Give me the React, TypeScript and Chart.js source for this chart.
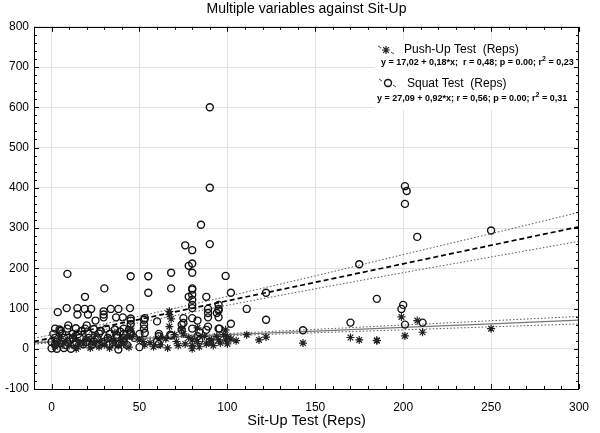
import React, { useEffect, useRef } from 'react';
import { Chart, registerables } from 'chart.js';

Chart.register(...registerables);

const FONT = '"Liberation Sans", Arial, Helvetica, sans-serif';

const chartTitle = 'Multiple variables against Sit-Up';
const xTitle = 'Sit-Up Test (Reps)';
const xTicks = [0, 50, 100, 150, 200, 250, 300];
const yTicks = [-100, 0, 100, 200, 300, 400, 500, 600, 700, 800];

const pushLabel = 'Push-Up Test  (Reps)';
const pushEq = ['y = 17,02 + 0,18*x;  r = 0,48; p = 0.00; r', '2', ' = 0,23'];
const squatLabel = 'Squat Test  (Reps)';
const squatEq = ['y = 27,09 + 0,92*x; r = 0,56; p = 0.00; r', '2', ' = 0,31'];

// Squat Test (Reps) vs Sit-Up Test (Reps) — circles
const squatPoints: [number, number][] = [
  [90, 600], [90, 400], [85, 308], [90, 260], [76, 257], [80, 245], [80, 212], [78, 206],
  [68, 189], [80, 189], [9, 186], [45, 180], [55, 180], [99, 181], [30, 150], [68, 150], [80, 150],
  [201, 404], [202, 392], [201, 360], [208, 278], [250, 294], [175, 210], [185, 124], [200, 109],
  [199, 99], [201, 60], [211, 65],
  [19, 129], [55, 139], [78, 129], [80, 122], [80, 109], [80, 101], [88, 129], [102, 139], [122, 139],
  [111, 99], [95, 109], [95, 99], [95, 95], [89, 99], [89, 78], [95, 78], [83, 70], [122, 72],
  [102, 62], [88, 47], [95, 50], [143, 46], [170, 65], [83, 31], [80, 147], [80, 134], [89, 89], [94, 89],
  [3.5, 91], [8.6, 101], [14.7, 101], [18.8, 99], [22.5, 99], [14.7, 85], [20.7, 85], [29.6, 93],
  [29.6, 85], [29.6, 78], [33.7, 99], [38, 99], [44.6, 101], [25, 70], [36.7, 78], [40.5, 78],
  [45, 75], [45, 70], [9.5, 58], [20, 58], [13.8, 51],
  [2, 50], [4.5, 48], [9, 50], [19, 50], [24, 49], [31, 50], [36, 48], [41, 50], [44, 47],
  [1, 37], [6, 38], [12, 37], [15, 36], [21, 37], [27, 38], [33, 37], [37, 35], [41, 37], [45, 36],
  [2, 27], [7, 27], [12, 26], [16, 28], [21, 27], [26, 26], [32, 27], [37, 28], [41, 26], [47, 27],
  [0, 17], [3, 18], [9, 17], [14, 16], [20, 17], [24, 18], [29, 17], [35, 16], [41, 17],
  [2, 10], [8, 9], [13, 10], [18, 11], [23, 10], [27, 9], [33, 10], [38, 11], [43, 9],
  [0, 1], [3, 0], [7, 2], [11, 0], [38, -2], [5, 44], [17, 44], [28, 44], [39, 43],
  [53, 76], [60, 68], [75, 76], [80, 76], [74, 60], [52.6, 60], [52.6, 50], [45, 61], [45, 41],
  [50, 37], [53, 39], [61, 37], [61, 31], [68, 33], [74, 47], [80, 50], [84, 41], [60, 18],
  [61, 12], [50, 4], [95.5, 50], [52.6, 72], [75, 64], [67.5, 35], [90, 18], [84, 21], [89, 55]
];

// Push-Up Test (Reps) vs Sit-Up Test (Reps) — asterisks
const pushPoints: [number, number][] = [
  [199, 79], [201, 32], [211, 41], [185, 20], [250, 50], [208, 70], [90, 18], [95, 22], [99, 22],
  [102, 24], [111, 35], [122, 29], [143, 14], [170, 28], [175, 22], [185, 21], [99, 47], [83, 52],
  [74, 50], [75, 37], [80, 22], [80, 8], [80, 0], [83, 18], [87, 31], [91, 22], [94, 31], [98, 35],
  [100, 12], [52, 18], [53, 10], [50, 22], [46, 31], [45, 51], [62, 28], [70, 35], [71, 18],
  [67, 85], [67, 55], [68, 74], [67, 93],
  [2, 5], [3, 15], [5, 25], [6, 10], [8, 20], [10, 8], [12, 30], [14, 0], [15, 5], [15, 18],
  [18, 12], [20, 25], [22, 2], [24, 15], [25, 35], [27, 5], [28, 20], [30, 10], [32, 28], [33, 2],
  [35, 18], [36, 40], [38, 8], [40, 22], [41, 12], [43, 30], [44, 4], [56, 15], [58, 5], [62, 10],
  [65, 25], [66, 2], [72, 8], [76, 12], [78, 28], [84, 5], [88, 12], [92, 8], [96, 14], [100, 30],
  [105, 20], [118, 22]
];

// Regression lines and 95% confidence bands
const fitX = [-10, 25, 50, 100, 150, 200, 250, 300];
const squatFit = [17.9, 50.1, 73.1, 119.1, 165.1, 211.1, 257.1, 303.1];
const squatUpper = [26, 57, 81, 130, 181, 234, 286, 339];
const squatLower = [10, 43, 65, 108, 149, 189, 228, 267];
const pushFit = [15.2, 21.5, 26, 35, 44, 53, 62, 71];
const pushUpper = [18, 23.7, 28.1, 37.8, 48.2, 58.9, 69.6, 80.3];
const pushLower = [12.4, 19.3, 23.9, 32.2, 39.8, 47.1, 54.4, 61.7];

const toXY = (pts: [number, number][]) => pts.map(([x, y]) => ({ x, y }));
const curve = (ys: number[]) => fitX.map((x, i) => ({ x, y: ys[i] }));

function drawEq(ctx: CanvasRenderingContext2D, parts: string[], x: number, y: number) {
  ctx.font = `bold 9px ${FONT}`;
  ctx.textBaseline = 'middle';
  ctx.fillText(parts[0], x, y);
  let cx = x + ctx.measureText(parts[0]).width;
  ctx.font = `bold 7px ${FONT}`;
  ctx.fillText(parts[1], cx, y - 4);
  cx += ctx.measureText(parts[1]).width;
  ctx.font = `bold 9px ${FONT}`;
  ctx.fillText(parts[2], cx, y);
}

const framePlugin = {
  id: 'frameAndLegend',
  afterDatasetsDraw(chart: any) {
    const { ctx, chartArea: a, scales } = chart;
    const xs = scales.x;
    const ys = scales.y;
    ctx.save();
    // frame
    ctx.strokeStyle = '#000';
    ctx.lineWidth = 1;
    ctx.strokeRect(Math.round(a.left) + 0.5, Math.round(a.top) + 0.5, Math.round(a.right - a.left) - 1, Math.round(a.bottom - a.top));
    // tick marks on all four sides (inward)
    ctx.beginPath();
    for (let v = -10; v <= 300; v += 10) {
      const p = Math.round(xs.getPixelForValue(v)) + 0.5;
      const len = v % 50 === 0 ? 5 : 3;
      ctx.moveTo(p, a.bottom);
      ctx.lineTo(p, a.bottom - len);
      ctx.moveTo(p, a.top);
      ctx.lineTo(p, a.top + len);
    }
    for (let v = -100; v <= 800; v += 20) {
      const p = Math.round(ys.getPixelForValue(v)) + 0.5;
      const len = v % 100 === 0 ? 5 : 3;
      ctx.moveTo(a.left, p);
      ctx.lineTo(a.left + len, p);
      ctx.moveTo(a.right, p);
      ctx.lineTo(a.right - len, p);
    }
    ctx.stroke();

    // legend box
    ctx.fillStyle = '#fff';
    ctx.fillRect(374, 40, 200, 70);
    ctx.fillStyle = '#000';
    // push-up symbol
    ctx.strokeStyle = '#444';
    ctx.lineWidth = 1;
    ctx.beginPath();
    ctx.moveTo(378, 46); ctx.lineTo(381, 48);
    ctx.moveTo(391, 52); ctx.lineTo(394, 54);
    ctx.stroke();
    ctx.strokeStyle = '#222';
    ctx.lineWidth = 1.2;
    ctx.beginPath();
    const sx = 386, sy = 50, r = 4;
    ctx.moveTo(sx - r, sy); ctx.lineTo(sx + r, sy);
    ctx.moveTo(sx, sy - r); ctx.lineTo(sx, sy + r);
    const d = r * 0.707;
    ctx.moveTo(sx - d, sy - d); ctx.lineTo(sx + d, sy + d);
    ctx.moveTo(sx - d, sy + d); ctx.lineTo(sx + d, sy - d);
    ctx.stroke();
    // squat symbol
    ctx.strokeStyle = '#444';
    ctx.lineWidth = 1;
    ctx.beginPath();
    ctx.moveTo(379, 79); ctx.lineTo(382, 81);
    ctx.moveTo(393, 85); ctx.lineTo(396, 87);
    ctx.stroke();
    ctx.strokeStyle = '#111';
    ctx.lineWidth = 1.4;
    ctx.beginPath();
    ctx.arc(388, 83, 3.5, 0, Math.PI * 2);
    ctx.stroke();

    ctx.textAlign = 'left';
    ctx.textBaseline = 'middle';
    ctx.font = `12px ${FONT}`;
    ctx.fillText(pushLabel, 404, 50);
    drawEq(ctx, pushEq, 381, 63);
    ctx.font = `12px ${FONT}`;
    ctx.fillText(squatLabel, 407, 84);
    drawEq(ctx, squatEq, 377, 99);
    ctx.restore();
  }
};

export default function App() {
  const ref = useRef<HTMLCanvasElement | null>(null);
  useEffect(() => {
    if (!ref.current) return;
    const bandStyle = { borderColor: '#555', borderWidth: 1, borderDash: [1.5, 2], pointRadius: 0, showLine: true, fill: false };
    const chart = new Chart(ref.current, {
      type: 'scatter',
      data: {
        datasets: [
          {
            label: 'Push-Up Test (Reps)', data: toXY(pushPoints), pointStyle: 'star', pointRadius: 4,
            borderColor: '#222', borderWidth: 1.2, backgroundColor: 'rgba(0,0,0,0)'
          },
          {
            label: 'Squat Test (Reps)', data: toXY(squatPoints), pointStyle: 'circle', pointRadius: 3.5,
            borderColor: '#111', borderWidth: 1.4, backgroundColor: 'rgba(255,255,255,0)'
          },
          { label: 'Squat fit', data: curve(squatFit), borderColor: '#000', borderWidth: 1.7, borderDash: [5, 3], pointRadius: 0, showLine: true, fill: false },
          { label: 'Squat upper', data: curve(squatUpper), ...bandStyle },
          { label: 'Squat lower', data: curve(squatLower), ...bandStyle },
          { label: 'Push fit', data: curve(pushFit), borderColor: '#777', borderWidth: 1.2, pointRadius: 0, showLine: true, fill: false },
          { label: 'Push upper', data: curve(pushUpper), ...bandStyle },
          { label: 'Push lower', data: curve(pushLower), ...bandStyle }
        ] as any
      },
      options: {
        animation: false,
        responsive: false,
        devicePixelRatio: 1,
        layout: { padding: { right: 12 } },
        plugins: {
          legend: { display: false },
          tooltip: { enabled: false },
          title: {
            display: true, text: chartTitle, color: '#000', fullSize: false,
            font: { family: FONT, size: 14, weight: 'normal' as any },
            padding: { top: 1, bottom: 9 }
          }
        },
        scales: {
          x: {
            type: 'linear', min: -10, max: 300,
            afterBuildTicks: (s: any) => { s.ticks = xTicks.map(v => ({ value: v })); },
            afterFit: (s: any) => { s.height = 44; },
            grid: { color: '#e2e2e2', drawTicks: false },
            border: { display: false },
            ticks: { color: '#000', font: { family: FONT, size: 12 }, padding: 11, maxRotation: 0, autoSkip: false },
            title: { display: true, text: xTitle, color: '#000', font: { family: FONT, size: 14.5 }, padding: { top: 0, bottom: 3 } }
          },
          y: {
            type: 'linear', min: -100, max: 800,
            afterBuildTicks: (s: any) => { s.ticks = yTicks.map(v => ({ value: v })); },
            afterFit: (s: any) => { s.width = 34; },
            grid: { color: '#e2e2e2', drawTicks: false },
            border: { display: false },
            ticks: { color: '#000', font: { family: FONT, size: 12 }, padding: 5, autoSkip: false }
          }
        }
      },
      plugins: [framePlugin]
    });
    return () => chart.destroy();
  }, []);
  return (
    <div style={{ position: 'fixed', left: 0, top: 0, width: 600, height: 433, background: '#fff' }}>
      <canvas ref={ref} width={600} height={433} style={{ width: 600, height: 433, display: 'block' }} />
    </div>
  );
}
